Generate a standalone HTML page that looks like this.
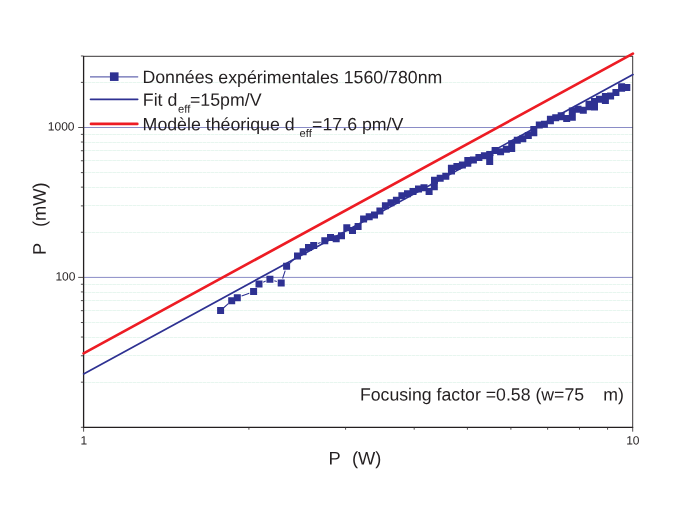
<!DOCTYPE html>
<html><head><meta charset="utf-8"><title>chart</title>
<style>
html,body{margin:0;padding:0;background:#fff;}
body{width:688px;height:507px;position:relative;overflow:hidden;}
#wrap{position:absolute;left:0;top:0;width:688px;height:507px;will-change:transform;}
svg{text-rendering:geometricPrecision;}
text{font-family:"Liberation Sans",sans-serif;fill:#231f20;white-space:pre;}
</style></head><body><div id="wrap">
<svg width="688" height="507" viewBox="0 0 688 507" style="position:absolute;left:0;top:0">
<rect width="688" height="507" fill="#fff"/>
<line x1="83.6" x2="632.7" y1="382.5" y2="382.5" stroke="#e7f6ef" stroke-width="1" stroke-dasharray="3.7 0.4"/>
<line x1="83.6" x2="632.7" y1="355.5" y2="355.5" stroke="#e7f6ef" stroke-width="1" stroke-dasharray="3.7 0.4"/>
<line x1="83.6" x2="632.7" y1="337.5" y2="337.5" stroke="#e7f6ef" stroke-width="1" stroke-dasharray="3.7 0.4"/>
<line x1="83.6" x2="632.7" y1="322.5" y2="322.5" stroke="#e7f6ef" stroke-width="1" stroke-dasharray="3.7 0.4"/>
<line x1="83.6" x2="632.7" y1="310.5" y2="310.5" stroke="#e7f6ef" stroke-width="1" stroke-dasharray="3.7 0.4"/>
<line x1="83.6" x2="632.7" y1="300.5" y2="300.5" stroke="#e7f6ef" stroke-width="1" stroke-dasharray="3.7 0.4"/>
<line x1="83.6" x2="632.7" y1="292.5" y2="292.5" stroke="#e7f6ef" stroke-width="1" stroke-dasharray="3.7 0.4"/>
<line x1="83.6" x2="632.7" y1="284.5" y2="284.5" stroke="#e7f6ef" stroke-width="1" stroke-dasharray="3.7 0.4"/>
<line x1="83.6" x2="632.7" y1="232.5" y2="232.5" stroke="#e7f6ef" stroke-width="1" stroke-dasharray="3.7 0.4"/>
<line x1="83.6" x2="632.7" y1="205.5" y2="205.5" stroke="#e7f6ef" stroke-width="1" stroke-dasharray="3.7 0.4"/>
<line x1="83.6" x2="632.7" y1="187.5" y2="187.5" stroke="#e7f6ef" stroke-width="1" stroke-dasharray="3.7 0.4"/>
<line x1="83.6" x2="632.7" y1="172.5" y2="172.5" stroke="#e7f6ef" stroke-width="1" stroke-dasharray="3.7 0.4"/>
<line x1="83.6" x2="632.7" y1="160.5" y2="160.5" stroke="#e7f6ef" stroke-width="1" stroke-dasharray="3.7 0.4"/>
<line x1="83.6" x2="632.7" y1="150.5" y2="150.5" stroke="#e7f6ef" stroke-width="1" stroke-dasharray="3.7 0.4"/>
<line x1="83.6" x2="632.7" y1="142.5" y2="142.5" stroke="#e7f6ef" stroke-width="1" stroke-dasharray="3.7 0.4"/>
<line x1="83.6" x2="632.7" y1="134.5" y2="134.5" stroke="#e7f6ef" stroke-width="1" stroke-dasharray="3.7 0.4"/>
<line x1="83.6" x2="632.7" y1="82.5" y2="82.5" stroke="#e7f6ef" stroke-width="1" stroke-dasharray="3.7 0.4"/>
<line x1="83.6" x2="632.7" y1="277.40" y2="277.40" stroke="#8a8cc6" stroke-width="1"/>
<line x1="83.6" x2="632.7" y1="127.50" y2="127.50" stroke="#8a8cc6" stroke-width="1"/>
<line x1="83.6" x2="632.7" y1="56.3" y2="56.3" stroke="#231f20" stroke-width="0.9"/>
<line x1="632.7" x2="632.7" y1="55.9" y2="427.9" stroke="#231f20" stroke-width="0.9"/>
<line x1="83.6" x2="83.6" y1="55.9" y2="427.9" stroke="#231f20" stroke-width="1.3"/>
<line x1="83.0" x2="633.1" y1="427.3" y2="427.3" stroke="#231f20" stroke-width="1.3"/>
<line x1="80.9" x2="83.6" y1="427.30" y2="427.30" stroke="#363233" stroke-width="0.85"/>
<line x1="80.9" x2="83.6" y1="382.18" y2="382.18" stroke="#363233" stroke-width="0.85"/>
<line x1="80.9" x2="83.6" y1="355.78" y2="355.78" stroke="#363233" stroke-width="0.85"/>
<line x1="80.9" x2="83.6" y1="337.05" y2="337.05" stroke="#363233" stroke-width="0.85"/>
<line x1="80.9" x2="83.6" y1="322.52" y2="322.52" stroke="#363233" stroke-width="0.85"/>
<line x1="80.9" x2="83.6" y1="310.66" y2="310.66" stroke="#363233" stroke-width="0.85"/>
<line x1="80.9" x2="83.6" y1="300.62" y2="300.62" stroke="#363233" stroke-width="0.85"/>
<line x1="80.9" x2="83.6" y1="291.93" y2="291.93" stroke="#363233" stroke-width="0.85"/>
<line x1="80.9" x2="83.6" y1="284.26" y2="284.26" stroke="#363233" stroke-width="0.85"/>
<line x1="78.2" x2="83.6" y1="277.40" y2="277.40" stroke="#363233" stroke-width="0.85"/>
<line x1="80.9" x2="83.6" y1="232.28" y2="232.28" stroke="#363233" stroke-width="0.85"/>
<line x1="80.9" x2="83.6" y1="205.88" y2="205.88" stroke="#363233" stroke-width="0.85"/>
<line x1="80.9" x2="83.6" y1="187.15" y2="187.15" stroke="#363233" stroke-width="0.85"/>
<line x1="80.9" x2="83.6" y1="172.62" y2="172.62" stroke="#363233" stroke-width="0.85"/>
<line x1="80.9" x2="83.6" y1="160.76" y2="160.76" stroke="#363233" stroke-width="0.85"/>
<line x1="80.9" x2="83.6" y1="150.72" y2="150.72" stroke="#363233" stroke-width="0.85"/>
<line x1="80.9" x2="83.6" y1="142.03" y2="142.03" stroke="#363233" stroke-width="0.85"/>
<line x1="80.9" x2="83.6" y1="134.36" y2="134.36" stroke="#363233" stroke-width="0.85"/>
<line x1="78.2" x2="83.6" y1="127.50" y2="127.50" stroke="#363233" stroke-width="0.85"/>
<line x1="80.9" x2="83.6" y1="82.38" y2="82.38" stroke="#363233" stroke-width="0.85"/>
<line x1="80.9" x2="83.6" y1="55.98" y2="55.98" stroke="#363233" stroke-width="0.85"/>
<line x1="83.60" x2="83.60" y1="427.3" y2="431.7" stroke="#363233" stroke-width="0.85"/>
<line x1="248.90" x2="248.90" y1="427.3" y2="429.7" stroke="#363233" stroke-width="0.85"/>
<line x1="345.59" x2="345.59" y1="427.3" y2="429.7" stroke="#363233" stroke-width="0.85"/>
<line x1="414.19" x2="414.19" y1="427.3" y2="429.7" stroke="#363233" stroke-width="0.85"/>
<line x1="467.40" x2="467.40" y1="427.3" y2="429.7" stroke="#363233" stroke-width="0.85"/>
<line x1="510.88" x2="510.88" y1="427.3" y2="429.7" stroke="#363233" stroke-width="0.85"/>
<line x1="547.64" x2="547.64" y1="427.3" y2="429.7" stroke="#363233" stroke-width="0.85"/>
<line x1="579.49" x2="579.49" y1="427.3" y2="429.7" stroke="#363233" stroke-width="0.85"/>
<line x1="607.57" x2="607.57" y1="427.3" y2="429.7" stroke="#363233" stroke-width="0.85"/>
<line x1="632.70" x2="632.70" y1="427.3" y2="431.7" stroke="#363233" stroke-width="0.85"/>
<line x1="83.6" y1="373.9" x2="633.0" y2="74.6" stroke="#2e3192" stroke-width="1.7" stroke-linecap="round"/>
<path fill="none" stroke="#2e3192" stroke-width="1.05" d="M224.0 307.5L228.3 303.7M241.6 296.1L249.3 293.2M263.2 282.2L265.7 281.1M274.3 280.7L276.8 281.5M282.6 278.5L285.2 270.6M290.0 263.1L294.1 259.1M317.9 243.6L320.6 242.6M344.0 231.9L344.3 231.5M448.9 172.4L449.1 172.1M492.1 157.0L493.4 154.6"/>
<path fill="#2e3192" d="M217.10 307.00h7v7h-7zM228.20 297.20h7v7h-7zM233.80 294.20h7v7h-7zM250.10 288.10h7v7h-7zM255.50 280.50h7v7h-7zM266.40 275.80h7v7h-7zM277.70 279.40h7v7h-7zM283.10 262.70h7v7h-7zM294.00 252.50h7v7h-7zM299.60 248.20h7v7h-7zM305.00 244.10h7v7h-7zM310.20 241.90h7v7h-7zM321.30 237.30h7v7h-7zM327.00 234.00h7v7h-7zM332.70 235.30h7v7h-7zM338.00 232.20h7v7h-7zM343.30 224.20h7v7h-7zM349.00 226.90h7v7h-7zM354.60 223.00h7v7h-7zM360.10 215.50h7v7h-7zM365.70 213.20h7v7h-7zM371.00 211.60h7v7h-7zM376.40 207.50h7v7h-7zM381.90 202.20h7v7h-7zM387.50 199.30h7v7h-7zM392.90 196.70h7v7h-7zM398.40 192.30h7v7h-7zM404.00 190.30h7v7h-7zM409.50 187.90h7v7h-7zM415.00 185.50h7v7h-7zM420.50 184.30h7v7h-7zM425.60 187.90h7v7h-7zM430.80 183.30h7v7h-7zM431.00 176.70h7v7h-7zM436.70 174.70h7v7h-7zM442.30 172.70h7v7h-7zM447.90 164.80h7v7h-7zM453.40 163.00h7v7h-7zM458.90 161.40h7v7h-7zM464.30 156.90h7v7h-7zM469.90 156.40h7v7h-7zM475.40 154.10h7v7h-7zM480.90 152.30h7v7h-7zM486.20 158.10h7v7h-7zM491.60 147.00h7v7h-7zM497.10 148.20h7v7h-7zM502.80 145.80h7v7h-7zM508.20 145.10h7v7h-7zM513.80 136.80h7v7h-7zM519.30 135.30h7v7h-7zM524.80 132.00h7v7h-7zM530.30 129.30h7v7h-7zM535.80 121.40h7v7h-7zM540.90 120.70h7v7h-7zM546.90 117.30h7v7h-7zM552.20 114.30h7v7h-7zM557.70 113.30h7v7h-7zM563.20 114.90h7v7h-7zM568.80 113.80h7v7h-7zM574.50 105.70h7v7h-7zM579.80 106.80h7v7h-7zM585.50 100.80h7v7h-7zM591.00 103.50h7v7h-7zM595.90 95.80h7v7h-7zM601.90 97.00h7v7h-7zM607.10 92.40h7v7h-7zM612.40 89.10h7v7h-7zM618.10 83.20h7v7h-7zM623.30 84.00h7v7h-7zM448.00 167.50h7v7h-7zM464.30 159.80h7v7h-7zM486.20 151.10h7v7h-7zM508.20 140.30h7v7h-7zM530.30 126.10h7v7h-7zM546.90 115.70h7v7h-7zM557.70 112.30h7v7h-7zM568.80 107.60h7v7h-7zM585.50 103.30h7v7h-7zM591.00 98.10h7v7h-7zM601.90 92.90h7v7h-7zM618.10 84.80h7v7h-7z"/>
<line x1="83.6" y1="353.4" x2="632.9" y2="53.6" stroke="#ed1c24" stroke-width="2.7" stroke-linecap="round"/>
<line x1="90" x2="138.2" y1="76.85" y2="76.85" stroke="#6668b1" stroke-width="1.25"/>
<rect x="109.95" y="72.35" width="8.6" height="8.6" fill="#2e3192"/>
<line x1="90.5" x2="137.7" y1="99.4" y2="99.4" stroke="#2e3192" stroke-width="1.6" stroke-linecap="round"/>
<line x1="91" x2="137.3" y1="123.9" y2="123.9" stroke="#ed1c24" stroke-width="2.7" stroke-linecap="round"/>
<text class="t" id="l1" x="142.4" y="83.1" font-size="17.75" transform="rotate(0.03 142.4 83.1)">Données expérimentales 1560/780nm</text>
<text class="t" id="l2a" x="142.8" y="105.8" font-size="17.75" transform="rotate(0.03 142.8 105.8)">Fit d</text>
<text class="t" id="l2s" x="178.0" y="112.7" font-size="11.2" transform="rotate(0.03 178.0 112.7)">eff</text>
<text class="t" id="l2b" x="190.0" y="105.8" font-size="17.75" transform="rotate(0.03 190.0 105.8)">=15pm/V</text>
<text class="t" id="l3a" x="142.6" y="130.2" font-size="17.75" transform="rotate(0.03 142.6 130.2)">Modèle théorique d</text>
<text class="t" id="l3s" x="299.6" y="137.0" font-size="11.2" transform="rotate(0.03 299.6 137.0)">eff</text>
<text class="t" id="l3b" x="312.1" y="130.2" font-size="17.75" transform="rotate(0.03 312.1 130.2)">=17.6 pm/V</text>
<text class="t" id="t1000" x="47.8" y="130.5" font-size="12" transform="rotate(0.03 47.8 130.5)">1000</text>
<text class="t" id="t100" x="55.4" y="280.5" font-size="12" transform="rotate(0.03 55.4 280.5)">100</text>
<text class="t" id="tx1" x="80.5" y="444.4" font-size="12" transform="rotate(0.03 80.5 444.4)">1</text>
<text class="t" id="tx10" x="626.2" y="444.5" font-size="12" transform="rotate(0.03 626.2 444.5)">10</text>
<text class="t" id="xl1" x="328.4" y="464.5" font-size="18.3" transform="rotate(0.03 328.4 464.5)">P</text>
<text class="t" id="xl2" x="351.9" y="464.5" font-size="18.3" transform="rotate(0.03 351.9 464.5)">(W)</text>
<text class="t" id="ff1" x="359.9" y="400.4" font-size="17.7" transform="rotate(0.03 359.9 400.4)">Focusing factor =0.58 (w=75</text>
<text class="t" id="ff2" x="603.2" y="400.4" font-size="17.7" transform="rotate(0.03 603.2 400.4)">m)</text>
<text class="t" id="yl1" x="0" y="0" font-size="18.3" transform="translate(45.8,254.9) rotate(-90.03)">P</text>
<text class="t" id="yl2" x="0" y="0" font-size="18.3" transform="translate(45.8,227.0) rotate(-90.03)">(mW)</text>
</svg>
</div></body></html>
